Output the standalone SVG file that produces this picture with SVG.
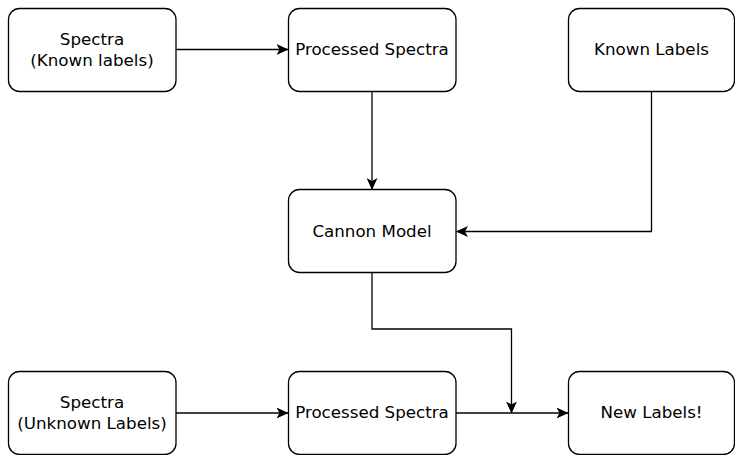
<svg xmlns="http://www.w3.org/2000/svg" width="735" height="455" viewBox="0 0 735 455">
  <style>
    .box { fill: #ffffff; stroke: #000000; stroke-width: 1.3; }
    .lbl { font-family: "DejaVu Sans", sans-serif; font-size: 16.7px; fill: #000000; text-anchor: middle; }
    .edge { fill: none; stroke: #000000; stroke-width: 1.3; marker-end: url(#arrow); }
  </style>
  <defs>
    <marker id="arrow" viewBox="0 0 12 11" refX="11.5" refY="5.5" markerWidth="12" markerHeight="11" markerUnits="userSpaceOnUse" orient="auto">
      <path d="M0,0 L12,5.5 L0,11 L3,5.5 Z" fill="#000000"/>
    </marker>
  </defs>
  <rect width="735" height="455" fill="#ffffff"/>

  <!-- flow arrows between the boxes -->
  <g id="connectors">
    <path class="edge" d="M176,49.5 H288"/>
    <path class="edge" d="M372,91.5 V189.5"/>
    <path class="edge" d="M651.5,91.5 V231.5 H456.5"/>
    <path class="edge" d="M372,272.5 V329 H511.5 V413"/>
    <path class="edge" d="M176,413 H288"/>
    <path class="edge" d="M456,413 H568"/>
  </g>

  <g id="spectra-known">
    <rect class="box" x="8.5" y="8.5" width="167.5" height="83" rx="11"/>
    <text class="lbl" x="92" y="44.5">Spectra</text>
    <text class="lbl" x="92" y="65.5">(Known labels)</text>
  </g>
  <g id="processed-top">
    <rect class="box" x="288.5" y="8.5" width="167.5" height="83" rx="11"/>
    <text class="lbl" x="372" y="54.5">Processed Spectra</text>
  </g>
  <g id="known-labels">
    <rect class="box" x="568.5" y="8.5" width="166" height="83" rx="11"/>
    <text class="lbl" x="651.5" y="54.5">Known Labels</text>
  </g>
  <g id="cannon-model">
    <rect class="box" x="288.5" y="189.5" width="167.5" height="83" rx="11"/>
    <text class="lbl" x="372" y="236.5">Cannon Model</text>
  </g>
  <g id="spectra-unknown">
    <rect class="box" x="8.5" y="371.5" width="167.5" height="83" rx="11"/>
    <text class="lbl" x="92" y="407.5">Spectra</text>
    <text class="lbl" x="92" y="428.5">(Unknown Labels)</text>
  </g>
  <g id="processed-bottom">
    <rect class="box" x="288.5" y="371.5" width="167.5" height="83" rx="11"/>
    <text class="lbl" x="372" y="418">Processed Spectra</text>
  </g>
  <g id="new-labels">
    <rect class="box" x="568.5" y="371.5" width="166" height="83" rx="11"/>
    <text class="lbl" x="651.5" y="418">New Labels!</text>
  </g>
</svg>
